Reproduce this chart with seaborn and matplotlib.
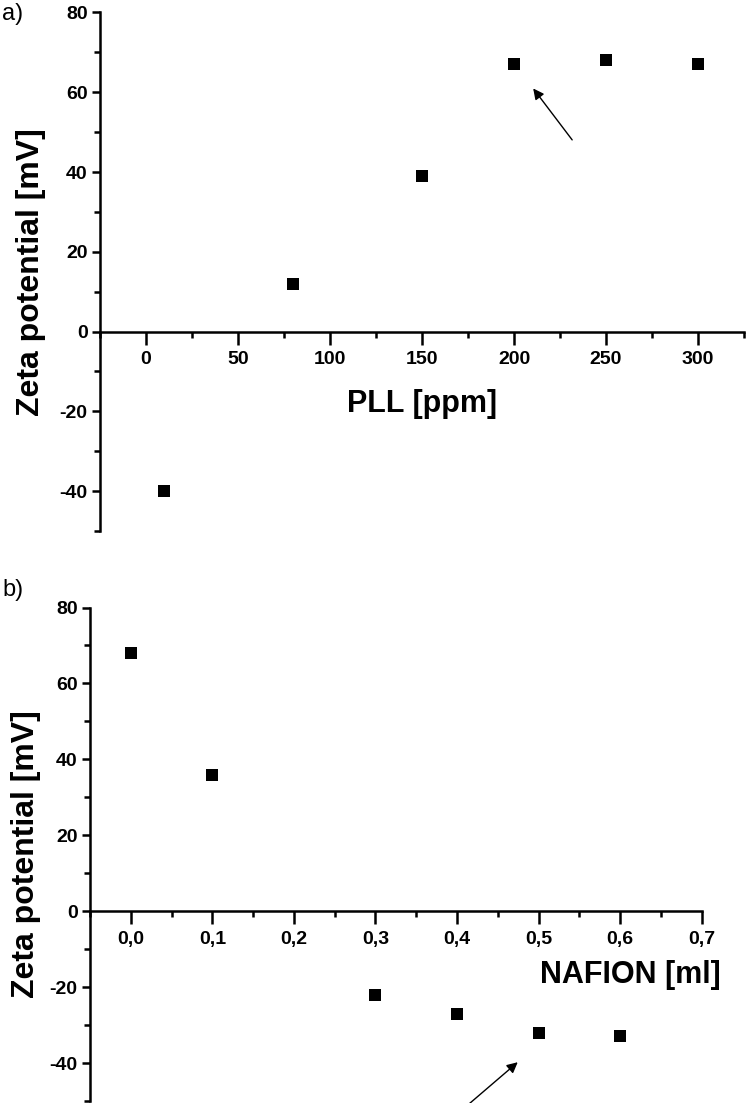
import matplotlib
matplotlib.use("Agg")
import matplotlib.pyplot as plt
import seaborn as sns
from matplotlib.ticker import MultipleLocator, FuncFormatter

# panel a: PLL concentration vs zeta potential
pll_ppm = [10, 80, 150, 200, 250, 300]
pll_zeta = [-40, 12, 39, 67, 68, 67]

# panel b: NAFION volume vs zeta potential
nafion_ml = [0.0, 0.1, 0.3, 0.4, 0.5, 0.6]
nafion_zeta = [68, 36, -22, -27, -32, -33]

sns.set_style("ticks")
plt.rcParams["font.family"] = ["Liberation Sans", "DejaVu Sans"]
plt.rcParams["axes.unicode_minus"] = False
for k in ("text.color", "axes.labelcolor", "xtick.color", "ytick.color", "axes.edgecolor"):
    plt.rcParams[k] = "black"

fig = plt.figure(figsize=(7.47, 11.03), dpi=100)
ax_a = fig.add_axes([0.134, 0.5186, 0.862, 0.4701])
ax_b = fig.add_axes([0.1205, 0.0018, 0.8189, 0.4474])


def style_axis(ax, xmaj, xmin):
    ax.spines["top"].set_visible(False)
    ax.spines["right"].set_visible(False)
    ax.spines["bottom"].set_position(("data", 0))
    for s in ("left", "bottom"):
        ax.spines[s].set_linewidth(1.8)
    ax.set_ylim(-50, 80)
    ax.yaxis.set_major_locator(MultipleLocator(20))
    ax.yaxis.set_minor_locator(MultipleLocator(10))
    ax.xaxis.set_major_locator(MultipleLocator(xmaj))
    ax.xaxis.set_minor_locator(MultipleLocator(xmin))
    ax.tick_params(axis="y", which="major", direction="out", length=6, width=1.8, pad=3)
    ax.tick_params(axis="y", which="minor", direction="out", length=4, width=1.8)
    ax.tick_params(axis="x", which="major", direction="out", length=9, width=1.8, pad=5)
    ax.tick_params(axis="x", which="minor", direction="out", length=4, width=1.8)
    ax.set_ylabel("Zeta potential [mV]", fontsize=23, fontweight="bold")


def bold_ticks(ax):
    for lab in ax.get_xticklabels() + ax.get_yticklabels():
        lab.set_fontweight("bold")
        lab.set_fontsize(14)


sns.scatterplot(x=pll_ppm, y=pll_zeta, ax=ax_a, marker="s", s=72, color="black",
                edgecolor="black", linewidth=0)
ax_a.set_xlim(-25, 325)
style_axis(ax_a, 50, 25)
bold_ticks(ax_a)
ax_a.yaxis.set_label_coords(-0.084, 0.5)
ax_a.set_xlabel("")
ax_a.text(0.5, 0.245, "PLL [ppm]", transform=ax_a.transAxes, fontsize=22,
          fontweight="bold", ha="center", va="center")
ax_a.annotate("", xy=(209.5, 61.5), xytext=(232.5, 47.5),
              arrowprops=dict(arrowstyle="-|>", color="black", lw=1.0, mutation_scale=16))

sns.scatterplot(x=nafion_ml, y=nafion_zeta, ax=ax_b, marker="s", s=72, color="black",
                edgecolor="black", linewidth=0)
ax_b.set_xlim(-0.05, 0.7)
style_axis(ax_b, 0.1, 0.05)
ax_b.xaxis.set_major_formatter(FuncFormatter(lambda v, p: f"{v:.1f}".replace(".", ",")))
bold_ticks(ax_b)
ax_b.yaxis.set_label_coords(-0.08, 0.5)
ax_b.set_xlabel("")
ax_b.text(0.883, 0.255, "NAFION [ml]", transform=ax_b.transAxes, fontsize=22,
          fontweight="bold", ha="center", va="center")
ax_b.annotate("", xy=(0.477, -39.3), xytext=(0.408, -52), annotation_clip=False,
              arrowprops=dict(arrowstyle="-|>", color="black", lw=1.0, mutation_scale=16))

fig.text(0.003, 0.987, "a)", fontsize=17, ha="left", va="center")
fig.text(0.003, 0.465, "b)", fontsize=17, ha="left", va="center")

fig.savefig("out.png", dpi=100)
